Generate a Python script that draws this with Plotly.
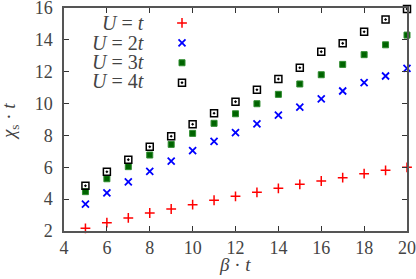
import plotly.graph_objects as go

beta = [5, 6, 7, 8, 9, 10, 11, 12, 13, 14, 15, 16, 17, 18, 19, 20]
chi_u1 = [2.17, 2.52, 2.82, 3.13, 3.38, 3.65, 3.93, 4.18, 4.43, 4.68, 4.93, 5.14, 5.35, 5.60, 5.81, 6.00]
chi_u2 = [3.69, 4.40, 5.08, 5.75, 6.39, 7.04, 7.62, 8.18, 8.72, 9.28, 9.78, 10.29, 10.79, 11.31, 11.73, 12.21]
chi_u3 = [4.47, 5.28, 6.04, 6.77, 7.44, 8.13, 8.76, 9.36, 9.99, 10.58, 11.23, 11.81, 12.46, 13.07, 13.69, 14.30]
chi_u4 = [4.84, 5.72, 6.48, 7.29, 7.95, 8.70, 9.39, 10.12, 10.87, 11.54, 12.25, 13.26, 13.78, 14.51, 15.28, 15.94]
labels = ["<i>U</i> = <i>t</i>", "<i>U</i> = 2<i>t</i>", "<i>U</i> = 3<i>t</i>", "<i>U</i> = 4<i>t</i>"]
xticks = [4, 6, 8, 10, 12, 14, 16, 18, 20]
yticks = [2, 4, 6, 8, 10, 12, 14, 16]
xtitle = "<i>β</i> · <i>t</i>"
ytitle = "<i>χ</i><sub>s</sub> · <i>t</i>"

serif = "Liberation Serif"
fig = go.Figure()
styles = [
    dict(symbol="cross-thin", size=7, color="#ff0000", line=dict(color="#ff0000", width=1.5)),
    dict(symbol="x-thin", size=7, color="#0000ff", line=dict(color="#0000ff", width=1.8)),
    dict(symbol="square", size=6, color="#006400", line=dict(color="#2e8b2e", width=1)),
    dict(symbol="square-open-dot", size=7, color="#000000", line=dict(color="#000000", width=1.5)),
]
for ys, st in zip([chi_u1, chi_u2, chi_u3, chi_u4], styles):
    fig.add_trace(go.Scatter(x=beta, y=ys, mode="markers", marker=st, name=" ",
                             cliponaxis=False))

for i, lab in enumerate(labels):
    fig.add_annotation(xref="paper", yref="paper", x=(146 - 64) / 343,
                       y=1 - (23 + 19.5 * i - 8) / 223, xanchor="right", yanchor="middle",
                       text=lab, showarrow=False, font=dict(family=serif, size=20, color="#444"))

fig.add_annotation(xref="paper", yref="paper", x=(235 - 64) / 343, y=1 - (264 - 8) / 223,
                   xanchor="center", yanchor="middle", text=xtitle, showarrow=False,
                   font=dict(family=serif, size=19, color="#444"))
fig.add_annotation(xref="paper", yref="paper", x=(10 - 64) / 343, y=1 - (121 - 8) / 223,
                   xanchor="center", yanchor="middle", text=ytitle, showarrow=False, textangle=-90,
                   font=dict(family=serif, size=19, color="#444"))

axis_common = dict(showgrid=False, zeroline=False, showline=True, linecolor="#555", linewidth=1.5,
                   mirror="ticks", ticks="inside", ticklen=5, tickcolor="#333", tickwidth=1.2,
                   automargin=False, ticklabeloverflow="allow",
                   tickfont=dict(family=serif, size=18, color="#444"))
fig.update_xaxes(range=[4, 20], tickvals=xticks, ticktext=[str(v) for v in xticks],
                 ticklabelstandoff=0, **axis_common)
fig.update_yaxes(range=[2, 16], tickvals=yticks, ticktext=[str(v) for v in yticks],
                 ticklabelstandoff=6, **axis_common)
fig.update_layout(width=416, height=279, margin=dict(l=64, r=9, t=8, b=48),
                  plot_bgcolor="white", paper_bgcolor="white",
                  legend=dict(x=(162 - 64) / 343, y=1.0, xanchor="left", yanchor="top",
                              bgcolor="rgba(0,0,0,0)", font=dict(size=13), tracegroupgap=0,
                              itemwidth=30))
fig.write_html("out.html", config={"displayModeBar": False},
               post_script="document.body.style.margin='0';document.body.style.overflow='hidden';")
